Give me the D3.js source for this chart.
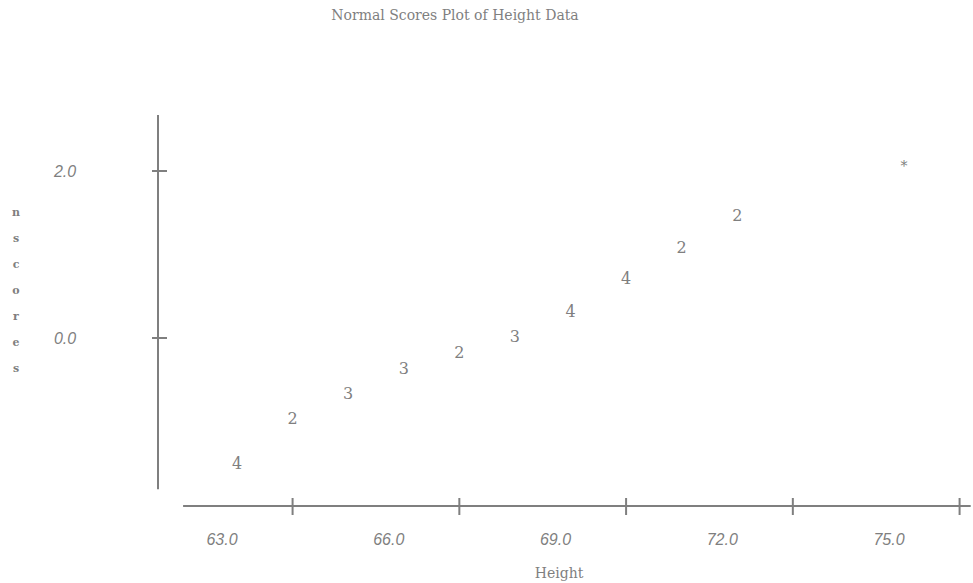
<!DOCTYPE html>
<html><head><meta charset="utf-8">
<script src="https://cdn.jsdelivr.net/npm/d3@7"></script>
<style>body{margin:0;background:#fff}</style>
</head><body>
<svg id="c" width="973" height="583"></svg>
<script>
const heights = [63, 64, 65, 66, 67, 68, 69, 70, 71, 72, 75];
const nscores = [-1.50, -0.96, -0.66, -0.37, -0.17, 0.02, 0.32, 0.71, 1.08, 1.47, 2.10];
const symbols = ["4", "2", "3", "3", "2", "3", "4", "4", "2", "2", "*"];
const xTickPositions = [64, 67, 70, 73, 76];
const xTickLabels = [63, 66, 69, 72, 75];
const yTickValues = [0, 2];
const yLabelChars = ["n","s","c","o","r","e","s"];

const svg = d3.select("#c");
const col = "#7f7f7f";
const x = d3.scaleLinear().domain([63, 75]).range([237, 904]);
const y = d3.scaleLinear().domain([0, 2]).range([338, 171]);

// title
svg.append("text").attr("x", 455).attr("y", 15).attr("text-anchor", "middle")
  .attr("dominant-baseline", "central").attr("font-family", "DejaVu Serif")
  .attr("font-size", 14).attr("fill", col).text("Normal Scores Plot of Height Data");

// y axis
svg.append("line").attr("x1", 158).attr("x2", 158).attr("y1", y(2.67)).attr("y2", y(-1.81))
  .attr("stroke", col).attr("stroke-width", 2);
svg.selectAll(".yt").data(yTickValues).enter().append("line")
  .attr("x1", 152).attr("x2", 167).attr("y1", d => y(d)).attr("y2", d => y(d))
  .attr("stroke", col).attr("stroke-width", 2);
svg.selectAll(".yl").data(yTickValues).enter().append("text")
  .attr("x", 65).attr("y", d => y(d)).attr("text-anchor", "middle").attr("dominant-baseline", "central")
  .attr("font-family", "Liberation Sans").attr("font-style", "italic").attr("font-size", 16)
  .attr("fill", col).text(d => d.toFixed(1));
svg.selectAll(".ylab").data(yLabelChars).enter().append("text")
  .attr("x", 16).attr("y", (d, i) => 212 + i * 26).attr("text-anchor", "middle").attr("dominant-baseline", "central")
  .attr("font-family", "DejaVu Serif").attr("font-weight", "bold").attr("font-size", 11)
  .attr("fill", col).text(d => d);

// x axis
svg.append("line").attr("x1", x(62.03)).attr("x2", x(76.2)).attr("y1", 506).attr("y2", 506)
  .attr("stroke", col).attr("stroke-width", 2);
svg.selectAll(".xt").data(xTickPositions).enter().append("line")
  .attr("x1", d => x(d)).attr("x2", d => x(d)).attr("y1", 498).attr("y2", 515)
  .attr("stroke", col).attr("stroke-width", 2);
svg.selectAll(".xl").data(xTickLabels).enter().append("text")
  .attr("x", d => x(d) - 15).attr("y", 539).attr("text-anchor", "middle").attr("dominant-baseline", "central")
  .attr("font-family", "Liberation Sans").attr("font-style", "italic").attr("font-size", 16)
  .attr("fill", col).text(d => d.toFixed(1));
svg.append("text").attr("x", 559).attr("y", 573).attr("text-anchor", "middle").attr("dominant-baseline", "central")
  .attr("font-family", "DejaVu Serif").attr("font-size", 14).attr("fill", col).text("Height");

// points
svg.selectAll(".pt").data(heights).enter().append("text")
  .attr("x", d => x(d)).attr("y", (d, i) => y(nscores[i]) + (symbols[i] === "*" ? 3 : 0))
  .attr("text-anchor", "middle").attr("dominant-baseline", "central")
  .attr("font-family", "DejaVu Serif").attr("font-size", (d, i) => symbols[i] === "*" ? 14 : 16)
  .attr("fill", col).text((d, i) => symbols[i]);
</script>
</body></html>
